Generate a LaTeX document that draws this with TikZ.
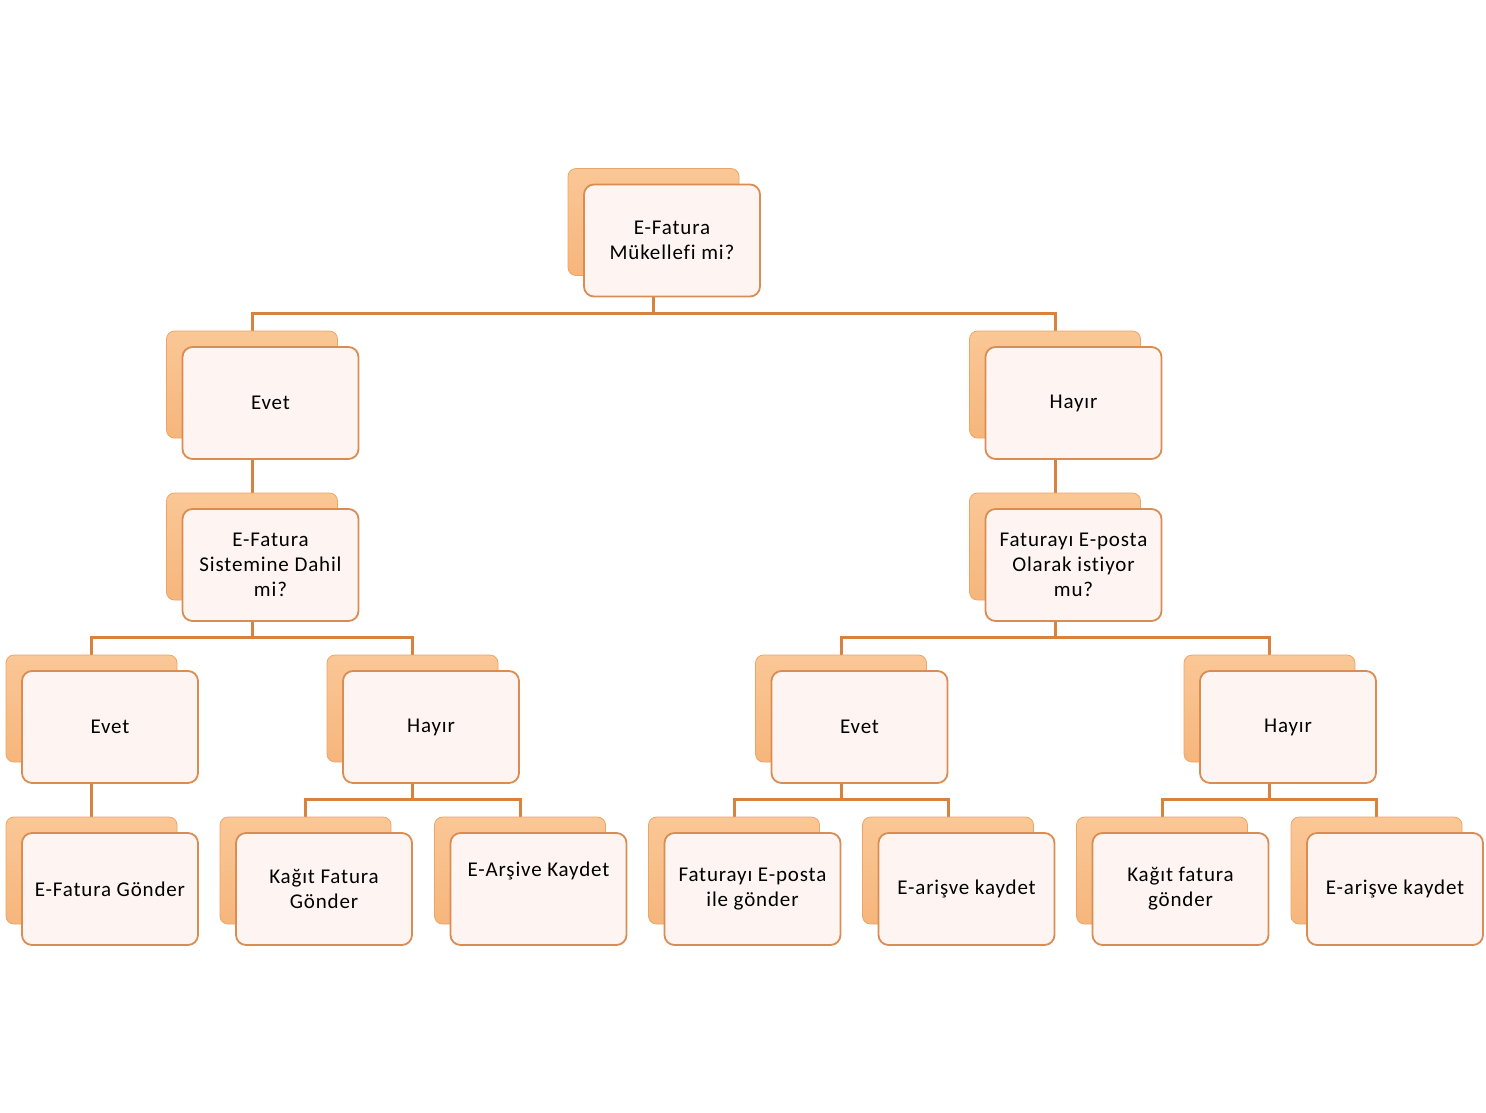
\documentclass[tikz,border=0pt]{standalone}
\usepackage{fontspec}
\setmainfont[Ligatures=NoCommon,LetterSpace=4]{Carlito}
\usetikzlibrary{backgrounds,calc}
\definecolor{backtop}{HTML}{FAC796}
\definecolor{backbot}{HTML}{F6B67C}
\definecolor{backedge}{HTML}{EDA566}
\definecolor{frontfill}{HTML}{FEF5F2}
\definecolor{frontedge}{HTML}{D98D52}
\definecolor{linkor}{HTML}{D7833F}
\tikzset{
  backbox/.style={rectangle, rounded corners=8pt, minimum width=171pt, minimum height=107pt,
    top color=backtop, bottom color=backbot, draw=backedge, line width=0.8pt, inner sep=0pt},
  frontbox/.style={rectangle, rounded corners=10pt, minimum width=176pt, minimum height=112pt,
    fill=frontfill, draw=frontedge, line width=1.8pt, align=center, inner sep=2pt,
    font=\fontsize{21}{25}\selectfont},
  txt/.style={align=center, font=\fontsize{21}{25}\selectfont, inner sep=0pt},
  link/.style={draw=linkor, line width=3pt}
}
\newcommand{\pairbox}[4]{%
  \node[backbox] (b#1) at ($(#2,#3)+(-18.5,-18.5)$) {};
  \node[frontbox] (f#1) at (#2,#3) {#4};
}
\begin{document}
\begin{tikzpicture}[x=1pt,y=-1pt]
\useasboundingbox (0,0) rectangle (1486,1112);
\pairbox{1}{672}{240.5}{E-Fatura\\Mükellefi mi?}
\pairbox{2}{270.5}{403}{Evet}
\pairbox{3}{1073.5}{403}{Hayır}
\pairbox{4}{270.5}{565}{E-Fatura\\Sistemine Dahil\\mi?}
\pairbox{5}{1073.5}{565}{Faturayı E-posta\\Olarak istiyor\\mu?}
\pairbox{6}{110}{727}{Evet}
\pairbox{7}{431}{727}{Hayır}
\pairbox{8}{859.5}{727}{Evet}
\pairbox{9}{1288}{727}{Hayır}
\pairbox{10}{110}{889}{E-Fatura Gönder}
\pairbox{11}{324}{889}{Kağıt Fatura\\Gönder}
\pairbox{12}{538.5}{889}{}
\node[txt] (t12) at ([yshift=18pt]f12.center) {E-Arşive Kaydet};
\pairbox{13}{752.5}{889}{Faturayı E-posta\\ile gönder}
\pairbox{14}{966.5}{889}{E-arişve kaydet}
\pairbox{15}{1180.5}{889}{Kağıt fatura\\gönder}
\pairbox{16}{1395}{889}{E-arişve kaydet}
\begin{pgfonlayer}{background}
  \foreach \p/\c in {1/2,1/3,2/4,3/5,4/6,4/7,5/8,5/9,6/10,7/11,7/12,8/13,8/14,9/15,9/16}{
    \draw[link] (b\p.center) -- ($(b\p.center |- f\p.south)+(0,16)$) -| (b\c.center);
  }
\end{pgfonlayer}
\end{tikzpicture}
\end{document}
